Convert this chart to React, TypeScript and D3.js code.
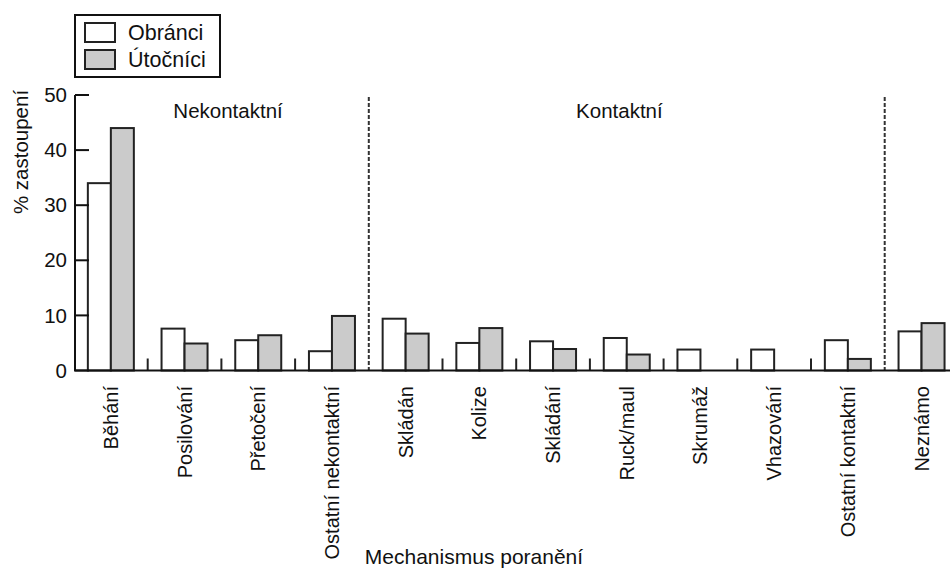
import * as d3 from "d3";

const WIDTH = 950;
const HEIGHT = 572;
const FONT = "'Liberation Sans', Arial, sans-serif";

const categories = [
  "Běhání",
  "Posilování",
  "Přetočení",
  "Ostatní nekontaktní",
  "Skládán",
  "Kolize",
  "Skládání",
  "Ruck/maul",
  "Skrumáž",
  "Vhazování",
  "Ostatní kontaktní",
  "Neznámo",
];
const series = ["Obránci", "Útočníci"];
const obranci = [34, 7.6, 5.5, 3.5, 9.4, 5.0, 5.3, 5.9, 3.8, 3.8, 5.5, 7.1];
const utocnici = [44, 4.9, 6.4, 9.9, 6.7, 7.7, 3.9, 2.9, 0, 0, 2.1, 8.6];
const yTicks = [0, 10, 20, 30, 40, 50];
// group headers, position in category steps from the y axis
const groups = [
  { name: "Nekontaktní", at: 2.09 },
  { name: "Kontaktní", at: 7.4 },
];
const dividers = [4, 11];

const colors = ["#ffffff", "#cbcbcb"];

const App = () => {
  const x = d3.scaleBand<string>().domain(categories).range([74, 74 + 73.7 * 12]);
  const bw = x.bandwidth();
  const xs = d3
    .scaleBand<string>()
    .domain(series)
    .range([bw / 2 - 23, bw / 2 + 23]);
  const y = d3.scaleLinear().domain([0, 50]).range([370.5, 95]);

  const values = [obranci, utocnici];
  const edge = (i: number) => (x(categories[i]) ?? 0);

  return (
    <svg
      width={WIDTH}
      height={HEIGHT}
      style={{ position: "absolute", left: 0, top: 0, background: "#fff" }}
      fontFamily={FONT}
    >
      {/* bars */}
      {categories.map((c, i) => (
        <g key={c} transform={`translate(${x(c)},0)`}>
          {series.map((s, k) =>
            values[k][i] > 0 ? (
              <rect
                key={s}
                x={xs(s)}
                y={y(values[k][i])}
                width={xs.bandwidth()}
                height={y(0) - y(values[k][i])}
                fill={colors[k]}
                stroke="#222"
                strokeWidth={2}
              />
            ) : null
          )}
        </g>
      ))}

      {/* separators between categories */}
      {categories.slice(1).map((c, j) =>
        dividers.includes(j + 1) ? null : (
          <line
            key={c}
            x1={x(c)}
            x2={x(c)}
            y1={y(0)}
            y2={y(0) - 12}
            stroke="#222"
            strokeWidth={2}
          />
        )
      )}

      {/* dashed dividers */}
      {dividers.map((d) => (
        <line
          key={d}
          x1={edge(d)}
          x2={edge(d)}
          y1={y(50) + 2}
          y2={y(0)}
          stroke="#333"
          strokeWidth={2}
          strokeDasharray="4,2"
        />
      ))}

      {/* group headers */}
      {groups.map((g) => (
        <text
          key={g.name}
          x={74 + g.at * bw}
          y={118}
          fontSize={20.5}
          textAnchor="middle"
          fill="#111"
        >
          {g.name}
        </text>
      ))}

      {/* axes */}
      <line x1={75} x2={75} y1={y(50)} y2={y(0)} stroke="#111" strokeWidth={2} />
      <line x1={74} x2={950} y1={y(0)} y2={y(0)} stroke="#111" strokeWidth={2} />
      {yTicks.map((t) => (
        <g key={t}>
          <line x1={75} x2={89} y1={y(t)} y2={y(t)} stroke="#111" strokeWidth={2} />
          <text
            x={67}
            y={y(t)}
            dy="0.35em"
            textAnchor="end"
            fontSize={20.5}
            fill="#111"
          >
            {t}
          </text>
        </g>
      ))}

      {/* category labels */}
      {categories.map((c) => (
        <text
          key={c}
          transform={`translate(${(x(c) ?? 0) + bw / 2},386) rotate(-90)`}
          dy="0.35em"
          textAnchor="end"
          fontSize={20}
          fill="#111"
        >
          {c}
        </text>
      ))}

      <text
        transform="translate(21,152) rotate(-90)"
        dy="0.35em"
        textAnchor="middle"
        fontSize={20.5}
        fill="#111"
      >
        % zastoupení
      </text>
      <text x={474} y={564} textAnchor="middle" fontSize={21} fill="#111">
        Mechanismus poranění
      </text>

      {/* legend */}
      <rect x={75} y={15} width={145} height={62} fill="#fff" stroke="#111" strokeWidth={2} />
      {series.map((s, k) => (
        <g key={s} transform={`translate(0,${23 + k * 27})`}>
          <rect x={85} y={0} width={30} height={19} fill={colors[k]} stroke="#222" strokeWidth={2} />
          <text x={128} y={17} fontSize={21.5} fill="#111">
            {s}
          </text>
        </g>
      ))}
    </svg>
  );
};

export default App;
